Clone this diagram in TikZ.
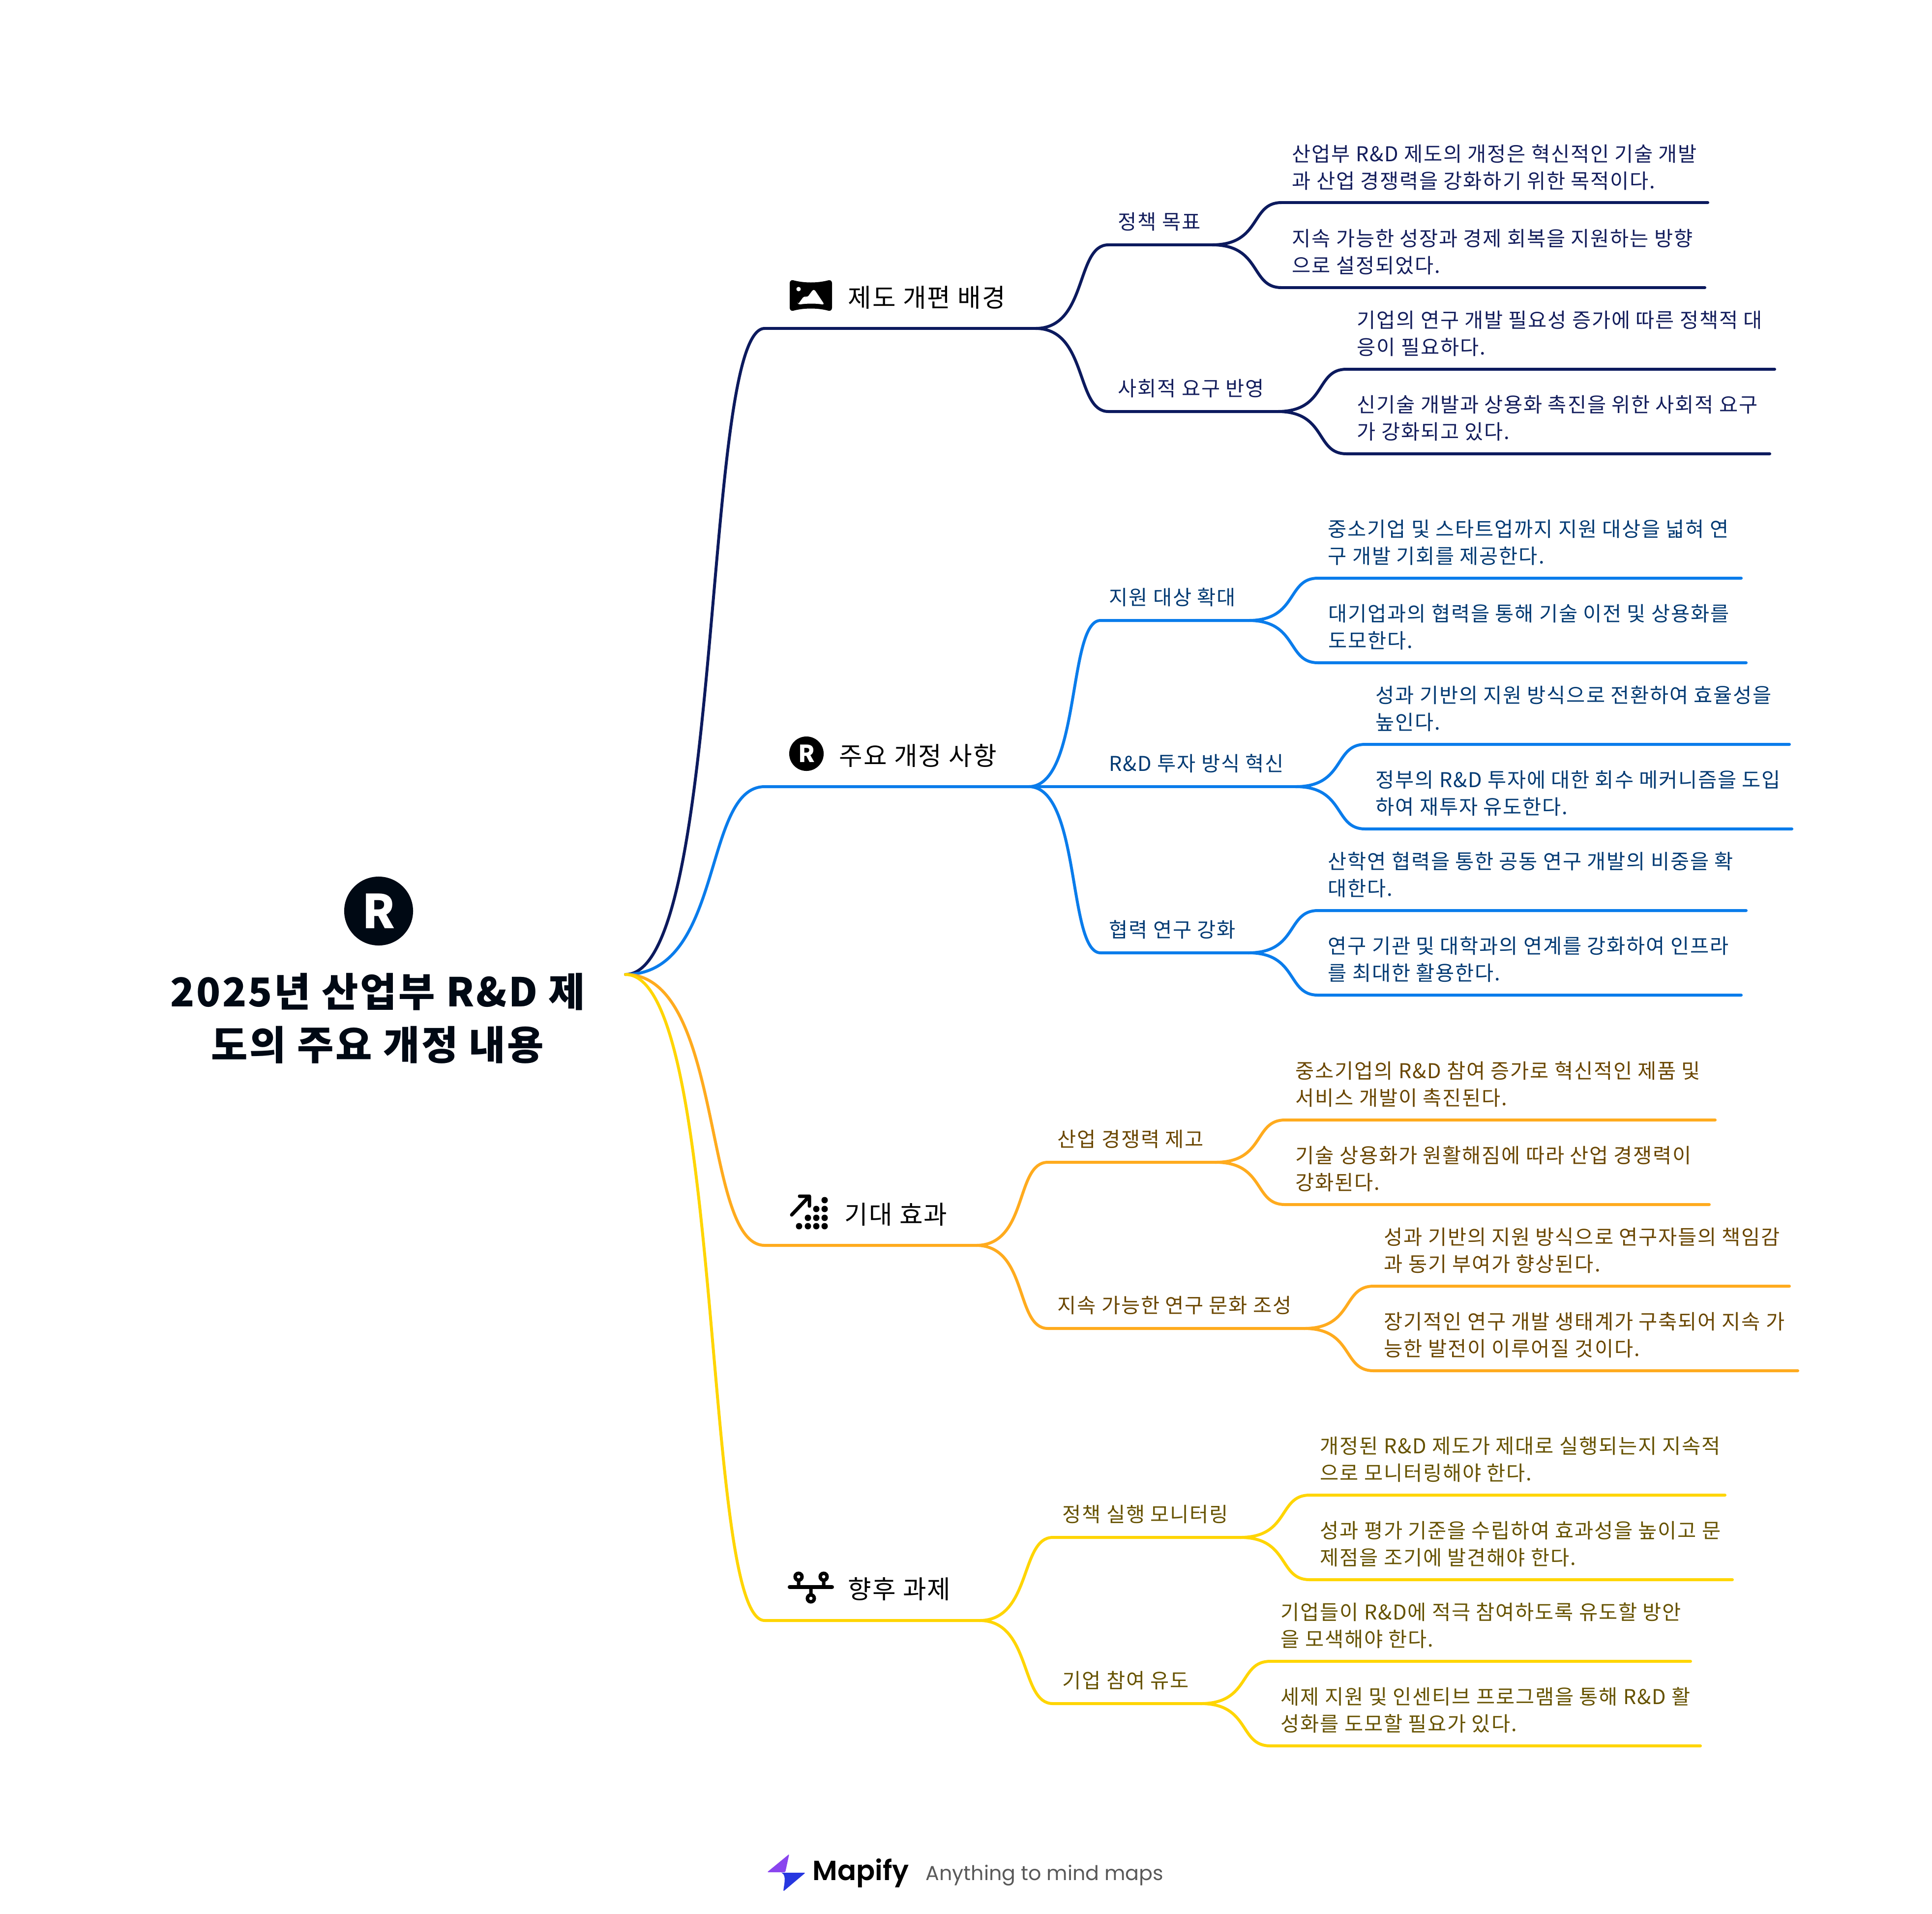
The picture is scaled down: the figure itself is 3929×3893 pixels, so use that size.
\documentclass[tikz,border=0pt]{standalone}
\usepackage{fontspec}
\setmainfont{Noto Sans CJK KR}[LetterSpace=4.5]
\newfontfamily\logofont{Poppins}
\newfontfamily\logoboldfont{Poppins SemiBold}
\definecolor{navyline}{HTML}{0C1A5E}
\definecolor{blueline}{HTML}{0A7CEB}
\definecolor{orangeline}{HTML}{FFAB1E}
\definecolor{yellowline}{HTML}{FFD500}
\definecolor{navytext}{HTML}{131D5C}
\definecolor{bluetext}{HTML}{023A73}
\definecolor{orangetext}{HTML}{6A4600}
\definecolor{yellowtext}{HTML}{665200}
\definecolor{inkdark}{HTML}{000914}
\begin{document}
\begin{tikzpicture}[x=0.01cm, y=-0.01cm,
    wire/.style={line width=1.7pt, line cap=round},
    leaftext/.style={anchor=west, inner sep=0pt, align=left, font=\fontsize{11.8}{15.65}\selectfont},
    subtext/.style={anchor=west, inner sep=0pt, font=\fontsize{11.8}{15.65}\selectfont},
    maintext/.style={anchor=west, inner sep=0pt, font=\fontsize{14.7}{18}\selectfont}]
    \useasboundingbox (0,0) rectangle (3929,3893);

    % root
    \node[circle, fill=inkdark, text=white, inner sep=0pt, minimum size=1.4cm, font=\fontsize{27}{27}\selectfont\bfseries] (rooticon) at (770,1853) {R};
    \node[align=center, inner sep=0pt, text=inkdark, font=\fontsize{23}{30.7}\selectfont\bfseries] (root) at (768,2071) {2025년 산업부 R\&D 제\\도의 주요 개정 내용};
    \coordinate (rootend) at (1272,1982);

    % first branch
    \coordinate (m1a) at (1555,668);
    \coordinate (m1b) at (2106,668);
    \fill[black] (1613,570) .. controls (1635,576) and (1663,576) .. (1685,570) .. controls (1690,569) and (1692,573) .. (1692,576) -- (1692,626) .. controls (1692,630) and (1689,633) .. (1685,632) .. controls (1663,626) and (1635,626) .. (1613,632) .. controls (1609,633) and (1606,630) .. (1606,626) -- (1606,576) .. controls (1606,572) and (1609,569) .. (1613,570) -- cycle;
    \fill[white] (1624,588) circle (4.5);
    \fill[white, rounded corners=1.5pt] (1622,620) -- (1636,601) -- (1641,606) -- (1655,587) -- (1677,620) .. controls (1660,617) and (1640,617) .. (1622,620) -- cycle;
    \node[maintext] (m1) at (1724,605) {제도 개편 배경};
    \draw[wire, navyline] (rootend) .. controls +(201,0) and +(-127,0) .. (m1a) -- (m1b);

    \coordinate (s1a) at (2254,498);
    \coordinate (s1b) at (2465,498);
    \node[subtext, text=navytext] (s1) at (2273,451) {정책 목표};
    \draw[wire, navyline] (m1b) .. controls +(106,0) and +(-67,0) .. (s1a) -- (s1b);
    \coordinate (l1a) at (2606,412);
    \coordinate (l1b) at (3473,412);
    \node[leaftext, text=navytext] (t1) at (2627,340) {산업부 R\&D 제도의 개정은 혁신적인 기술 개발\\과 산업 경쟁력을 강화하기 위한 목적이다.};
    \draw[wire, navyline] (s1b) .. controls +(101,0) and +(-64,0) .. (l1a) -- (l1b);
    \coordinate (l2a) at (2606,585);
    \coordinate (l2b) at (3467,585);
    \node[leaftext, text=navytext] (t2) at (2627,512) {지속 가능한 성장과 경제 회복을 지원하는 방향\\으로 설정되었다.};
    \draw[wire, navyline] (s1b) .. controls +(101,0) and +(-64,0) .. (l2a) -- (l2b);

    \coordinate (s2a) at (2254,837);
    \coordinate (s2b) at (2598,837);
    \node[subtext, text=navytext] (s2) at (2273,790) {사회적 요구 반영};
    \draw[wire, navyline] (m1b) .. controls +(106,0) and +(-67,0) .. (s2a) -- (s2b);
    \coordinate (l3a) at (2738,751);
    \coordinate (l3b) at (3609,751);
    \node[leaftext, text=navytext] (t3) at (2759,678) {기업의 연구 개발 필요성 증가에 따른 정책적 대\\응이 필요하다.};
    \draw[wire, navyline] (s2b) .. controls +(101,0) and +(-64,0) .. (l3a) -- (l3b);
    \coordinate (l4a) at (2738,923);
    \coordinate (l4b) at (3599,923);
    \node[leaftext, text=navytext] (t4) at (2759,850) {신기술 개발과 상용화 촉진을 위한 사회적 요구\\가 강화되고 있다.};
    \draw[wire, navyline] (s2b) .. controls +(101,0) and +(-64,0) .. (l4a) -- (l4b);

    % second branch
    \coordinate (m2a) at (1555,1600);
    \coordinate (m2b) at (2092,1600);
    \node[circle, fill=black, text=white, inner sep=0pt, minimum size=0.7cm, font=\fontsize{13.6}{14}\selectfont\bfseries] (m2icon) at (1640,1533) {R};
    \node[maintext] (m2) at (1706,1537) {주요 개정 사항};
    \draw[wire, blueline] (rootend) .. controls +(201,0) and +(-127,0) .. (m2a) -- (m2b);

    \coordinate (s3a) at (2238,1262);
    \coordinate (s3b) at (2539,1262);
    \node[subtext, text=bluetext] (s3) at (2255,1215) {지원 대상 확대};
    \draw[wire, blueline] (m2b) .. controls +(106,0) and +(-67,0) .. (s3a) -- (s3b);
    \coordinate (l5a) at (2680,1176);
    \coordinate (l5b) at (3541,1176);
    \node[leaftext, text=bluetext] (t5) at (2700,1103) {중소기업 및 스타트업까지 지원 대상을 넓혀 연\\구 개발 기회를 제공한다.};
    \draw[wire, blueline] (s3b) .. controls +(101,0) and +(-64,0) .. (l5a) -- (l5b);
    \coordinate (l6a) at (2680,1348);
    \coordinate (l6b) at (3551,1348);
    \node[leaftext, text=bluetext] (t6) at (2701,1275) {대기업과의 협력을 통해 기술 이전 및 상용화를\\도모한다.};
    \draw[wire, blueline] (s3b) .. controls +(101,0) and +(-64,0) .. (l6a) -- (l6b);

    \coordinate (s4a) at (2238,1600);
    \coordinate (s4b) at (2635,1600);
    \node[subtext, text=bluetext] (s4) at (2255,1553) {R\&D 투자 방식 혁신};
    \draw[wire, blueline] (m2b) -- (s4a) -- (s4b);
    \coordinate (l7a) at (2776,1514);
    \coordinate (l7b) at (3639,1514);
    \node[leaftext, text=bluetext] (t7) at (2797,1441) {성과 기반의 지원 방식으로 전환하여 효율성을\\높인다.};
    \draw[wire, blueline] (s4b) .. controls +(101,0) and +(-64,0) .. (l7a) -- (l7b);
    \coordinate (l8a) at (2776,1686);
    \coordinate (l8b) at (3644,1686);
    \node[leaftext, text=bluetext] (t8) at (2797,1613) {정부의 R\&D 투자에 대한 회수 메커니즘을 도입\\하여 재투자 유도한다.};
    \draw[wire, blueline] (s4b) .. controls +(101,0) and +(-64,0) .. (l8a) -- (l8b);

    \coordinate (s5a) at (2238,1938);
    \coordinate (s5b) at (2539,1938);
    \node[subtext, text=bluetext] (s5) at (2255,1891) {협력 연구 강화};
    \draw[wire, blueline] (m2b) .. controls +(106,0) and +(-67,0) .. (s5a) -- (s5b);
    \coordinate (l9a) at (2680,1852);
    \coordinate (l9b) at (3551,1852);
    \node[leaftext, text=bluetext] (t9) at (2700,1779) {산학연 협력을 통한 공동 연구 개발의 비중을 확\\대한다.};
    \draw[wire, blueline] (s5b) .. controls +(101,0) and +(-64,0) .. (l9a) -- (l9b);
    \coordinate (l10a) at (2680,2024);
    \coordinate (l10b) at (3541,2024);
    \node[leaftext, text=bluetext] (t10) at (2700,1951) {연구 기관 및 대학과의 연계를 강화하여 인프라\\를 최대한 활용한다.};
    \draw[wire, blueline] (s5b) .. controls +(101,0) and +(-64,0) .. (l10a) -- (l10b);

    % third branch
    \coordinate (m3a) at (1555,2533);
    \coordinate (m3b) at (1985,2533);
    \draw[black, line width=2pt, line cap=round, line join=round] (1610,2471) -- (1646,2433) (1626,2433) -- (1646,2433) -- (1646,2453);
    \fill[black] (1677,2441) circle (6.5) (1677,2459) circle (6.5) (1677,2477) circle (6.5) (1677,2494) circle (6.5) (1660,2459) circle (6.5) (1660,2477) circle (6.5) (1660,2494) circle (6.5) (1643,2477) circle (6.5) (1643,2494) circle (6.5) (1625,2494) circle (6.5);
    \node[maintext] (m3) at (1717,2470) {기대 효과};
    \draw[wire, orangeline] (rootend) .. controls +(201,0) and +(-127,0) .. (m3a) -- (m3b);

    \coordinate (s6a) at (2131,2364);
    \coordinate (s6b) at (2472,2364);
    \node[subtext, text=orangetext] (s6) at (2150,2317) {산업 경쟁력 제고};
    \draw[wire, orangeline] (m3b) .. controls +(106,0) and +(-67,0) .. (s6a) -- (s6b);
    \coordinate (l11a) at (2613,2278);
    \coordinate (l11b) at (3488,2278);
    \node[leaftext, text=orangetext] (t11) at (2634,2205) {중소기업의 R\&D 참여 증가로 혁신적인 제품 및\\서비스 개발이 촉진된다.};
    \draw[wire, orangeline] (s6b) .. controls +(101,0) and +(-64,0) .. (l11a) -- (l11b);
    \coordinate (l12a) at (2613,2450);
    \coordinate (l12b) at (3476,2450);
    \node[leaftext, text=orangetext] (t12) at (2634,2377) {기술 상용화가 원활해짐에 따라 산업 경쟁력이\\강화된다.};
    \draw[wire, orangeline] (s6b) .. controls +(101,0) and +(-64,0) .. (l12a) -- (l12b);

    \coordinate (s7a) at (2131,2702);
    \coordinate (s7b) at (2652,2702);
    \node[subtext, text=orangetext] (s7) at (2150,2655) {지속 가능한 연구 문화 조성};
    \draw[wire, orangeline] (m3b) .. controls +(106,0) and +(-67,0) .. (s7a) -- (s7b);
    \coordinate (l13a) at (2793,2616);
    \coordinate (l13b) at (3639,2616);
    \node[leaftext, text=orangetext] (t13) at (2814,2543) {성과 기반의 지원 방식으로 연구자들의 책임감\\과 동기 부여가 향상된다.};
    \draw[wire, orangeline] (s7b) .. controls +(101,0) and +(-64,0) .. (l13a) -- (l13b);
    \coordinate (l14a) at (2793,2788);
    \coordinate (l14b) at (3656,2788);
    \node[leaftext, text=orangetext] (t14) at (2814,2715) {장기적인 연구 개발 생태계가 구축되어 지속 가\\능한 발전이 이루어질 것이다.};
    \draw[wire, orangeline] (s7b) .. controls +(101,0) and +(-64,0) .. (l14a) -- (l14b);

    % fourth branch
    \coordinate (m4a) at (1555,3296);
    \coordinate (m4b) at (1992,3296);
    \draw[black, line width=2.3pt, line cap=round] (1606,3228) -- (1692,3228);
    \draw[black, line width=2pt] (1624,3207) circle (7) (1675,3207) circle (7) (1649,3251) circle (7) (1624,3215) -- (1624,3228) (1675,3215) -- (1675,3228) (1649,3228) -- (1649,3243);
    \node[maintext] (m4) at (1724,3232) {향후 과제};
    \draw[wire, yellowline] (rootend) .. controls +(201,0) and +(-127,0) .. (m4a) -- (m4b);

    \coordinate (s8a) at (2141,3127);
    \coordinate (s8b) at (2522,3127);
    \node[subtext, text=yellowtext] (s8) at (2160,3080) {정책 실행 모니터링};
    \draw[wire, yellowline] (m4b) .. controls +(106,0) and +(-67,0) .. (s8a) -- (s8b);
    \coordinate (l15a) at (2663,3041);
    \coordinate (l15b) at (3508,3041);
    \node[leaftext, text=yellowtext] (t15) at (2684,2968) {개정된 R\&D 제도가 제대로 실행되는지 지속적\\으로 모니터링해야 한다.};
    \draw[wire, yellowline] (s8b) .. controls +(101,0) and +(-64,0) .. (l15a) -- (l15b);
    \coordinate (l16a) at (2663,3213);
    \coordinate (l16b) at (3523,3213);
    \node[leaftext, text=yellowtext] (t16) at (2684,3140) {성과 평가 기준을 수립하여 효과성을 높이고 문\\제점을 조기에 발견해야 한다.};
    \draw[wire, yellowline] (s8b) .. controls +(101,0) and +(-64,0) .. (l16a) -- (l16b);

    \coordinate (s9a) at (2141,3465);
    \coordinate (s9b) at (2442,3465);
    \node[subtext, text=yellowtext] (s9) at (2160,3418) {기업 참여 유도};
    \draw[wire, yellowline] (m4b) .. controls +(106,0) and +(-67,0) .. (s9a) -- (s9b);
    \coordinate (l17a) at (2583,3379);
    \coordinate (l17b) at (3438,3379);
    \node[leaftext, text=yellowtext] (t17) at (2604,3306) {기업들이 R\&D에 적극 참여하도록 유도할 방안\\을 모색해야 한다.};
    \draw[wire, yellowline] (s9b) .. controls +(101,0) and +(-64,0) .. (l17a) -- (l17b);
    \coordinate (l18a) at (2583,3551);
    \coordinate (l18b) at (3458,3551);
    \node[leaftext, text=yellowtext] (t18) at (2604,3478) {세제 지원 및 인센티브 프로그램을 통해 R\&D 활\\성화를 도모할 필요가 있다.};
    \draw[wire, yellowline] (s9b) .. controls +(101,0) and +(-64,0) .. (l18a) -- (l18b);

    % logo
    \fill[color={rgb,255:red,138;green,69;blue,238}, rounded corners=0.5pt] (1605,3771) -- (1560,3808) -- (1597,3808) -- cycle;
    \fill[color={rgb,255:red,39;green,55;blue,224}, rounded corners=0.5pt] (1589,3809) -- (1638,3809) -- (1593,3847) .. controls (1594,3835) and (1600,3815) .. (1589,3809) -- cycle;
    \node[anchor=base west, inner sep=0pt, font=\logoboldfont\fontsize{16}{16}\selectfont] (logoname) at (1652,3824) {Mapify};
    \node[anchor=base west, inner sep=0pt, text=black!65, font=\logofont\fontsize{11.7}{12}\selectfont] (logotag) at (1882,3824) {Anything to mind maps};
\end{tikzpicture}
\end{document}
